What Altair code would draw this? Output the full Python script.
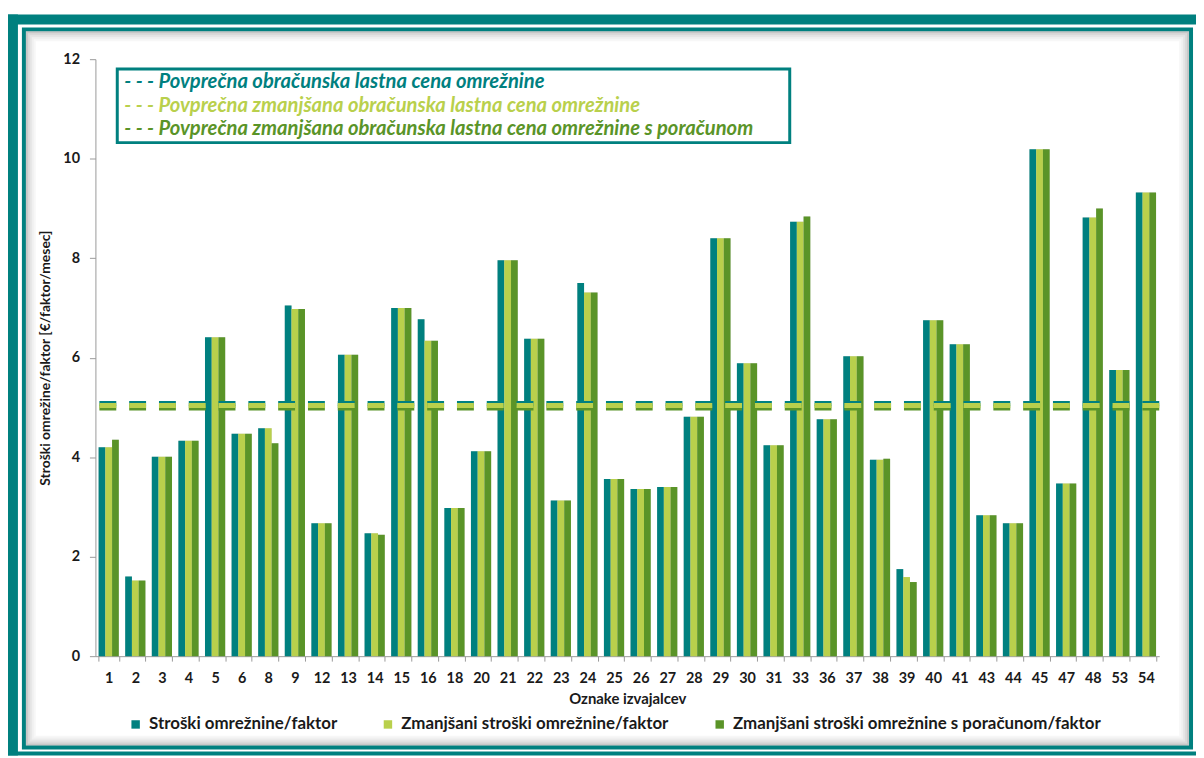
import altair as alt
import pandas as pd

categories = ["1", "2", "3", "4", "5", "6", "8", "9", "12", "13", "14", "15", "16", "18",
              "20", "21", "22", "23", "24", "25", "26", "27", "28", "29", "30", "31", "33",
              "36", "37", "38", "39", "40", "41", "43", "44", "45", "47", "48", "53", "54"]

series_names = ["Stroški omrežnine/faktor",
                "Zmanjšani stroški omrežnine/faktor",
                "Zmanjšani stroški omrežnine s poračunom/faktor"]

costs = [4.20, 1.60, 4.01, 4.33, 6.41, 4.47, 4.58, 7.05, 2.67, 6.06, 2.47, 7.00, 6.77, 2.98,
         4.12, 7.96, 6.38, 3.13, 7.50, 3.56, 3.36, 3.40, 4.81, 8.40, 5.89, 4.24, 8.73,
         4.76, 6.03, 3.95, 1.75, 6.75, 6.27, 2.83, 2.67, 10.19, 3.47, 8.82, 5.75, 9.32]

reduced = [4.20, 1.52, 4.01, 4.33, 6.41, 4.47, 4.58, 6.98, 2.67, 6.06, 2.47, 7.00, 6.34, 2.98,
           4.12, 7.96, 6.38, 3.13, 7.31, 3.56, 3.36, 3.40, 4.81, 8.40, 5.89, 4.24, 8.73,
           4.76, 6.03, 3.95, 1.59, 6.75, 6.27, 2.83, 2.67, 10.19, 3.47, 8.82, 5.75, 9.32]

reduced_settled = [4.35, 1.52, 4.01, 4.33, 6.41, 4.47, 4.28, 6.98, 2.67, 6.06, 2.44, 7.00, 6.34, 2.98,
                   4.12, 7.96, 6.38, 3.13, 7.31, 3.56, 3.36, 3.40, 4.81, 8.40, 5.89, 4.24, 8.84,
                   4.76, 6.03, 3.97, 1.49, 6.75, 6.27, 2.83, 2.67, 10.19, 3.47, 9.00, 5.75, 9.32]

avg_labels = ["- - - Povprečna obračunska lastna cena omrežnine",
              "- - - Povprečna zmanjšana obračunska lastna cena omrežnine",
              "- - - Povprečna zmanjšana obračunska lastna cena omrežnine s poračunom"]
avg_values = [5.08, 5.04, 4.99]

y_ticks = [0, 2, 4, 6, 8, 10, 12]

colors = ["#00807F", "#B9D04C", "#5A9428"]
TEAL = "#00807F"
FONT = "Lato"

W, H = 1071, 601

rows = []
for i, c in enumerate(categories):
    for s, vals in zip(series_names, [costs, reduced, reduced_settled]):
        rows.append({"cat": c, "series": s, "value": vals[i]})
df = pd.DataFrame(rows)

x_enc = alt.X("cat:N", sort=categories,
              scale=alt.Scale(paddingInner=0.24, paddingOuter=0.12),
              axis=alt.Axis(title="Oznake izvajalcev", labelAngle=0, tickBand="extent",
                            domainColor="#9a9a9a", tickColor="#9a9a9a", tickSize=5,
                            labelFont=FONT, labelFontSize=14.5, labelFontWeight="bold",
                            labelColor="#1a1a1a", labelPadding=11,
                            titleFont=FONT, titleFontSize=15, titleFontWeight="bold",
                            titleColor="#1a1a1a", titlePadding=6))
xoff_enc = alt.XOffset("series:N", sort=series_names,
                       scale=alt.Scale(domain=series_names, paddingInner=0, paddingOuter=0))
y_enc = alt.Y("value:Q", scale=alt.Scale(domain=[0, 12], nice=False, zero=True),
              axis=alt.Axis(title="Stroški omrežine/faktor [€/faktor/mesec]", values=y_ticks,
                            grid=False, domainColor="#9a9a9a", tickColor="#9a9a9a", tickSize=6,
                            labelFont=FONT, labelFontSize=14.5, labelFontWeight="bold",
                            labelColor="#1a1a1a", labelPadding=10,
                            titleFont=FONT, titleFontSize=14, titleFontWeight="bold",
                            titleColor="#1a1a1a", titlePadding=10))

one = pd.DataFrame({"a": [0]})


def box(x1, x2, y1, y2, **kw):
    return alt.Chart(one).mark_rect(**kw).encode(
        x=alt.value(x1), x2=alt.value(x2), y=alt.value(y1), y2=alt.value(y2))


# decorative frame (pixel positions relative to plot origin)
frame = [
    box(-88, -78, -45, 701, color=TEAL),
    box(-88, 1108, -45, -35, color=TEAL),
    box(-88, 1108, 697, 701, color=TEAL),
    box(-72, 1103, -30, 693, fill=None, filled=False, stroke=TEAL, strokeWidth=4),
]
for k, op in enumerate([0.22, 0.15, 0.10, 0.06, 0.03]):
    d = 3 + 2 * k
    frame.append(box(-72 + d, 1103 - d, -30 + d, 693 - d, filled=False,
                     stroke="#000000", strokeOpacity=op, strokeWidth=2))

shadow = alt.Chart(df).mark_bar(color="#000000", opacity=0.16, xOffset=3).encode(
    x=x_enc, xOffset=xoff_enc, y=y_enc)

bars = alt.Chart(df).mark_bar().encode(
    x=x_enc, xOffset=xoff_enc, y=y_enc,
    color=alt.Color("series:N", sort=series_names,
                    scale=alt.Scale(domain=series_names, range=colors),
                    legend=alt.Legend(title=None, orient="none", direction="horizontal",
                                      legendX=32, legendY=661, symbolType="square",
                                      symbolSize=72, symbolStrokeWidth=0,
                                      labelFont=FONT, labelFontSize=17, labelLimit=600,
                                      labelFontWeight="bold", labelColor="#1a1a1a",
                                      columnPadding=42, labelOffset=5)))

rules = []
for order in [0, 2, 1]:
    rules.append(alt.Chart(pd.DataFrame({"value": [avg_values[order]]})).mark_rule(
        color=colors[order], strokeWidth=5, strokeDash=[17, 13]).encode(y=y_enc))

legend_box = box(22, 699, 10, 84, fill="white", stroke=TEAL, strokeWidth=3)
legend_texts = []
for i, (lab, yy) in enumerate(zip(avg_labels, [23, 47, 70])):
    legend_texts.append(alt.Chart(one).mark_text(
        align="left", baseline="middle", font=FONT, fontSize=20.3, fontStyle="italic",
        fontWeight="bold", color=colors[i]).encode(
        x=alt.value(29), y=alt.value(yy), text=alt.value(lab)))

chart = alt.layer(*frame, shadow, bars, *rules, legend_box, *legend_texts).properties(
    width=W, height=H,
    autosize=alt.AutoSizeParams(type="none"),
    padding={"left": 88, "top": 49, "right": 37, "bottom": 100},
    background="white",
).configure_view(stroke=None)

chart.save("out.html", embed_options={"renderer": "svg", "actions": False})
